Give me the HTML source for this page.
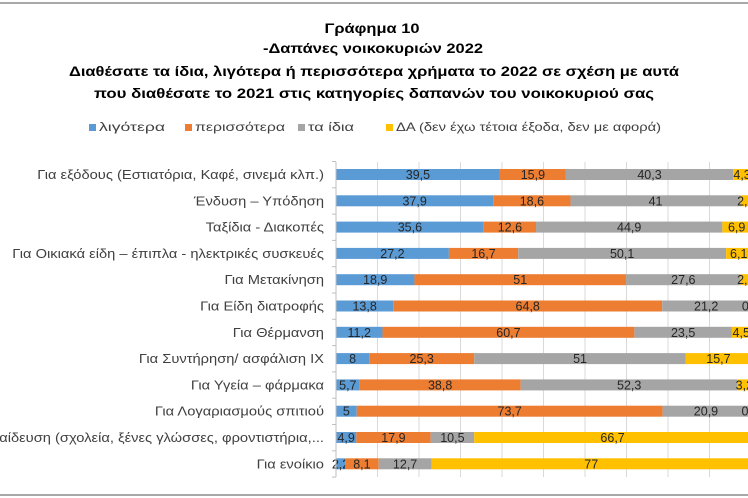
<!DOCTYPE html>
<html><head><meta charset="utf-8"><style>
html,body{margin:0;padding:0;background:#fff;}
svg{display:block;font-family:"Liberation Sans","DejaVu Sans",sans-serif;}
</style></head><body>
<svg width="748" height="498" viewBox="0 0 748 498" xmlns="http://www.w3.org/2000/svg">
<rect width="748" height="498" fill="#fff"/>
<line x1="0" y1="3" x2="748" y2="3" stroke="#8c8c8c" stroke-width="1.5"/>
<line x1="0" y1="495" x2="748" y2="495" stroke="#8c8c8c" stroke-width="1.5"/>
<g font-weight="bold" font-size="14" text-anchor="middle" fill="#000">
<text x="372" y="33" textLength="95" lengthAdjust="spacingAndGlyphs">Γράφημα 10</text>
<text x="373" y="53" textLength="220" lengthAdjust="spacingAndGlyphs">-Δαπάνες νοικοκυριών 2022</text>
<text x="374" y="76" textLength="610" lengthAdjust="spacingAndGlyphs">Διαθέσατε τα ίδια, λιγότερα ή περισσότερα χρήματα το 2022 σε σχέση με αυτά</text>
<text x="374" y="98" textLength="560" lengthAdjust="spacingAndGlyphs">που διαθέσατε το 2021 στις κατηγορίες δαπανών του νοικοκυριού σας</text>
</g>
<g font-size="12" fill="#404040">
<rect x="89" y="124" width="7" height="7" fill="#5b9bd5"/><text x="99" y="131" textLength="66" lengthAdjust="spacingAndGlyphs">λιγότερα</text>
<rect x="185" y="124" width="7" height="7" fill="#ed7d31"/><text x="195" y="131" textLength="90" lengthAdjust="spacingAndGlyphs">περισσότερα</text>
<rect x="298" y="124" width="7" height="7" fill="#a5a5a5"/><text x="308" y="131" textLength="46" lengthAdjust="spacingAndGlyphs">τα ίδια</text>
<rect x="386" y="124" width="7" height="7" fill="#ffc000"/><text x="396" y="131" textLength="265" lengthAdjust="spacingAndGlyphs">ΔΑ (δεν έχω τέτοια έξοδα, δεν με αφορά)</text>
</g>
<g id="grid" stroke="#d9d9d9" stroke-width="1"></g>
<g id="bars"></g>
<g id="labels" font-size="13" fill="#404040" text-anchor="end"></g>
<g id="axis" stroke="#bfbfbf" stroke-width="1"></g>
</svg>
<script>
var rows=[
["Για εξόδους (Εστιατόρια, Καφέ, σινεμά κλπ.)",39.5,15.9,40.3,4.3],
["Ένδυση – Υπόδηση",37.9,18.6,41,2.5],
["Ταξίδια - Διακοπές",35.6,12.6,44.9,6.9],
["Για Οικιακά είδη – έπιπλα - ηλεκτρικές συσκευές",27.2,16.7,50.1,6.1],
["Για Μετακίνηση",18.9,51,27.6,2.5],
["Για Είδη διατροφής",13.8,64.8,21.2,0.2],
["Για Θέρμανση",11.2,60.7,23.5,4.5],
["Για Συντήρηση/ ασφάλιση ΙΧ",8,25.3,51,15.7],
["Για Υγεία – φάρμακα",5.7,38.8,52.3,3.2],
["Για Λογαριασμούς σπιτιού",5,73.7,20.9,0.4],
["Για Εκπαίδευση (σχολεία, ξένες γλώσσες, φροντιστήρια,...",4.9,17.9,10.5,66.7],
["Για ενοίκιο",2.2,8.1,12.7,77]];
var NS="http://www.w3.org/2000/svg",x0=336,s=4.15,cols=["#5b9bd5","#ed7d31","#a5a5a5","#ffc000"];
function el(p,t,a,txt){var e=document.createElementNS(NS,t);for(var k in a)e.setAttribute(k,a[k]);if(txt!=null)e.textContent=txt;document.getElementById(p).appendChild(e);return e;}
for(var g=1;g<10;g++)el("grid","line",{x1:x0+g*41.5,x2:x0+g*41.5,y1:162,y2:477});
el("axis","line",{x1:x0,x2:x0,y1:162,y2:477});
for(var i=0;i<=12;i++){var y=161.5+26.3*i;el("axis","line",{x1:x0-4,x2:x0,y1:y,y2:y});}
rows.forEach(function(r,i){var cy=174.5+26.3*i,x=x0;
 var t=el("labels","text",{x:324,y:cy+4.5},r[0]);
 var L=t.getComputedTextLength();if(L>0){t.setAttribute("textLength",L*1.13);t.setAttribute("lengthAdjust","spacingAndGlyphs");}
 for(var j=0;j<4;j++){var w=r[j+1]*s;el("bars","rect",{x:x,y:cy-5.5,width:w,height:11,fill:cols[j]});
  el("bars","text",{x:x+w/2,y:cy+4.5,"font-size":"12.5",fill:"#262626","text-anchor":"middle"},String(r[j+1]).replace(".",","));x+=w;}
});
</script>
</body></html>
